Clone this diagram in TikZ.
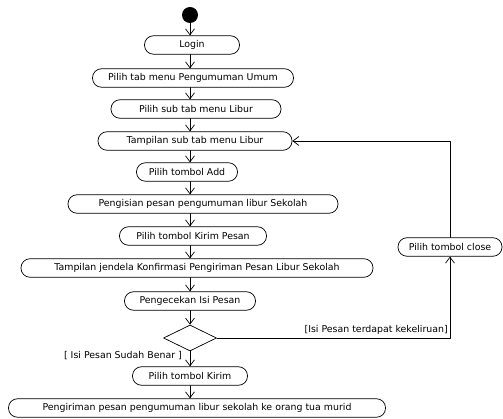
\documentclass[tikz,border=0pt]{standalone}
\usepackage{fontspec}
\setmainfont{DejaVu Sans}
\usetikzlibrary{arrows.meta,shapes.geometric}

\begin{document}
\begin{tikzpicture}
			[line cap=round,line join=round,>={Straight Barb[length=6pt,width=9pt]},x=1pt,y=-1pt,
			act/.style={draw,line width=0.7pt,fill=white,rounded corners=9pt,minimum height=18.5pt,inner sep=1pt,font=\fontsize{9.4}{11}\selectfont},
			flow/.style={->,line width=0.7pt},
			guard/.style={font=\fontsize{9.4}{11}\selectfont,inner sep=1pt}]
			\useasboundingbox (0,0) rectangle (503,419);
			\node [circle,fill=black,minimum size=16pt,inner sep=0pt] (start) at (190,15) {};
			\node [act,minimum width=95pt] (login) at (192,45) {Login};
			\node [act,minimum width=201pt] (tabmenu) at (193,78) {Pilih tab menu Pengumuman Umum};
			\node [act,minimum width=170pt] (subtab) at (196,109) {Pilih sub tab menu Libur};
			\node [act,minimum width=194pt] (tampilsub) at (195,141) {Tampilan sub tab menu Libur};
			\node [act,minimum width=101pt] (add) at (187,172) {Pilih tombol Add};
			\node [act,minimum width=270pt] (isipesan) at (203,204) {Pengisian pesan pengumuman libur Sekolah};
			\node [act,minimum width=147pt] (kirimpesan) at (193,236) {Pilih tombol Kirim Pesan};
			\node [act,minimum width=352pt] (konfirmasi) at (197,268) {Tampilan jendela Konfirmasi Pengiriman Pesan Libur Sekolah};
			\node [act,minimum width=131pt] (cek) at (190,301) {Pengecekan Isi Pesan};
			\node [diamond,draw,fill=white,line width=0.7pt,inner sep=0pt,minimum width=53pt,minimum height=26pt] (cabang) at (190,338) {};
			\node [act,minimum width=115pt] (kirim) at (190,376) {Pilih tombol Kirim};
			\node [act,minimum width=377pt] (kirimortu) at (197,408) {Pengiriman pesan pengumuman libur sekolah ke orang tua murid};
			\node [act,minimum width=104pt] (close) at (450,247) {Pilih tombol close};
			% alur utama
			\draw [flow] (start) -- (start |- login.north);
			\draw [flow] (login.south -| start) -- (tabmenu.north -| start);
			\draw [flow] (tabmenu.south -| start) -- (subtab.north -| start);
			\draw [flow] (subtab.south -| start) -- (tampilsub.north -| start);
			\draw [flow] (tampilsub.south -| start) -- (add.north -| start);
			\draw [flow] (add.south -| start) -- (isipesan.north -| start);
			\draw [flow] (isipesan.south -| start) -- (kirimpesan.north -| start);
			\draw [flow] (kirimpesan.south -| start) -- (konfirmasi.north -| start);
			\draw [flow] (konfirmasi.south -| start) -- (cek.north -| start);
			\draw [flow] (cek.south -| start) -- (cabang.north);
			\draw [flow] (cabang.south) -- (kirim.north -| start);
			\draw [flow] (kirim.south -| start) -- (kirimortu.north -| start);
			% kembali jika pesan keliru
			\draw [flow] (cabang.east) -| (close.south);
			\draw [flow] (close.north) |- (tampilsub.east);
			\node [guard,anchor=south east] (salah) at (449,336) {[Isi Pesan terdapat kekeliruan]};
			\node [guard,anchor=east] (benar) at (183,356) {[ Isi Pesan Sudah Benar ]};
		\end{tikzpicture}
\end{document}
